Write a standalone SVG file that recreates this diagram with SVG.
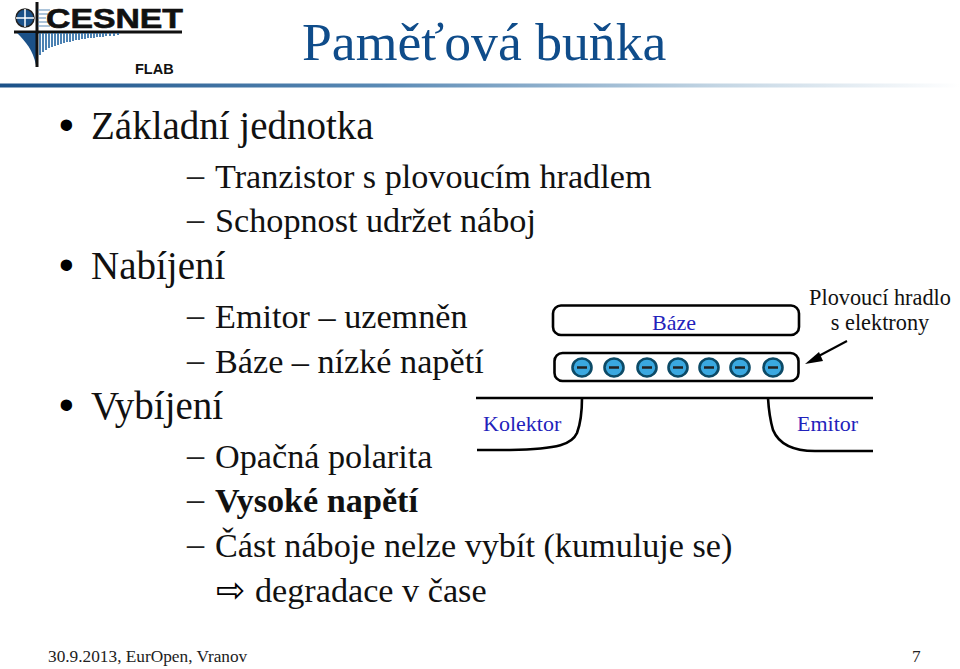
<svg xmlns="http://www.w3.org/2000/svg" width="960" height="669" viewBox="0 0 960 669">
<style>
text{font-family:"Liberation Serif",serif;fill:#000}
.title{font-size:53.7px;fill:#0f4c8a}
.l1{font-size:39px;fill:#111}
.l2{font-size:34.2px;fill:#111}
.d{font-size:34.2px;fill:#222}
.bul{font-family:"Liberation Sans",sans-serif;font-size:42px}
.blue{font-size:22px;fill:#2222bb}
.lab{font-size:22.3px;fill:#111}
.foot{font-size:17.3px;fill:#222}
.st{fill:none;stroke:#000;stroke-width:2.6}
.e{fill:#3aa8e0;stroke:#0c4a66;stroke-width:2.6}
.m{stroke:#222;stroke-width:2.4}
</style>
<defs>
<linearGradient id="hdr" x1="0" x2="1" y1="0" y2="0"><stop offset="0" stop-color="#1b5188"/><stop offset=".4" stop-color="#5a8ab5"/><stop offset=".75" stop-color="#c4d6e4"/><stop offset="1" stop-color="#fff"/></linearGradient>
<ellipse id="el" rx="9.5" ry="9" class="e"/>
</defs>
<rect x="0" y="83.5" width="960" height="4" fill="url(#hdr)"/>
<g id="logo">
<path d="M14 32H182" stroke="#111" stroke-width="3"/>
<path d="M17 33H36V65C33 50 26 42 17 33Z" fill="#1b5188"/>
<path d="M40 33V55M43 33V52M46 33V50M49 33V48M52 33V47M55 33V46M58 33V45M61 33V44M64 33V43M67 33V42M70 33V42M73 33V41M76 33V40M79 33V40M82 33V39M85 33V39M88 33V38M91 33V38M94 33V38M97 33V37M100 33V37M103 33V37M106 33V36M110 33V36M114 33V36M118 33V35" stroke="#2d6ca5" stroke-width="1.7"/>
<path d="M37 2V67" stroke="#111" stroke-width="3"/>
<circle cx="25" cy="18" r="9" fill="#1b5188" stroke="#222" stroke-width="1.5"/>
<path d="M16 18H34M25 9V27" stroke="#fff" stroke-width="1.5"/>
<path d="M38 10H50M38 14H48M38 18H46M38 22H48M38 26H50" stroke="#5a8ab5" stroke-width="1.2"/>
<text x="46" y="28" textLength="137" lengthAdjust="spacingAndGlyphs" style="font-family:'Liberation Sans',sans-serif;font-weight:bold;font-size:27px;fill:#111;stroke:#111;stroke-width:.6">CESNET</text>
<text x="135" y="74" style="font-family:'Liberation Sans',sans-serif;font-weight:bold;font-size:14.5px;fill:#111">FLAB</text>
</g>
<text class="title" x="302" y="60">Paměťová buňka</text>
<g id="bullets">
<text class="bul" x="59" y="139">•</text>
<text class="l1" x="91" y="139">Základní jednotka</text>
<text class="d" x="187" y="186">–</text>
<text class="l2" x="215" y="188">Tranzistor s plovoucím hradlem</text>
<text class="d" x="187" y="230">–</text>
<text class="l2" x="215" y="232">Schopnost udržet náboj</text>
<text class="bul" x="59" y="279">•</text>
<text class="l1" x="91" y="279">Nabíjení</text>
<text class="d" x="187" y="326">–</text>
<text class="l2" x="215" y="328">Emitor – uzemněn</text>
<text class="d" x="187" y="371">–</text>
<text class="l2" x="215" y="373">Báze – nízké napětí</text>
<text class="bul" x="59" y="419">•</text>
<text class="l1" x="91" y="419">Vybíjení</text>
<text class="d" x="187" y="466">–</text>
<text class="l2" x="215" y="468">Opačná polarita</text>
<text class="d" x="187" y="510">–</text>
<text class="l2" x="215" y="512" font-weight="bold">Vysoké napětí</text>
<text class="d" x="187" y="555">–</text>
<text class="l2" x="215" y="557">Část náboje nelze vybít (kumuluje se)</text>
<text x="216" y="602" style="font-family:'DejaVu Sans',sans-serif;font-size:35px">⇨</text>
<text class="l2" x="255" y="602">degradace v čase</text>
</g>
<g id="baze">
<rect class="st" x="553" y="305.5" width="246" height="29.5" rx="8"/>
<text class="blue" x="674" y="330" text-anchor="middle">Báze</text>
</g>
<g id="hradlo">
<rect class="st" x="554.5" y="353" width="244" height="28" rx="8"/>
<use href="#el" x="582" y="367.5"/><use href="#el" x="614" y="367.5"/><use href="#el" x="647" y="367.5"/><use href="#el" x="678" y="367.5"/><use href="#el" x="709" y="367.5"/><use href="#el" x="740" y="367.5"/><use href="#el" x="773" y="367.5"/>
<path class="m" d="M577 367.5H587M609 367.5H619M642 367.5H652M673 367.5H683M704 367.5H714M735 367.5H745M768 367.5H778"/>
<text class="lab" x="880" y="305" text-anchor="middle">Plovoucí hradlo</text>
<text class="lab" x="880" y="330" text-anchor="middle">s elektrony</text>
</g>
<g id="connectors">
<path d="M847 341L815 358" fill="none" stroke="#000" stroke-width="2"/>
<path d="M805 364L819 352L823 361Z" fill="#000"/>
</g>
<g id="substrat">
<path class="st" d="M476 398H873"/>
<path class="st" d="M582 398C582 415 580 425 577 433C572 444 560 449 510 450H477"/>
<path class="st" d="M768 398C769 415 771 423 773 430C778 442 790 451 815 451H873"/>
<text class="blue" x="483" y="431">Kolektor</text>
<text class="blue" x="797" y="431">Emitor</text>
</g>
<g id="footer">
<text class="foot" x="48" y="662">30.9.2013, EurOpen, Vranov</text>
<text class="foot" x="912" y="662">7</text>
</g>
</svg>
